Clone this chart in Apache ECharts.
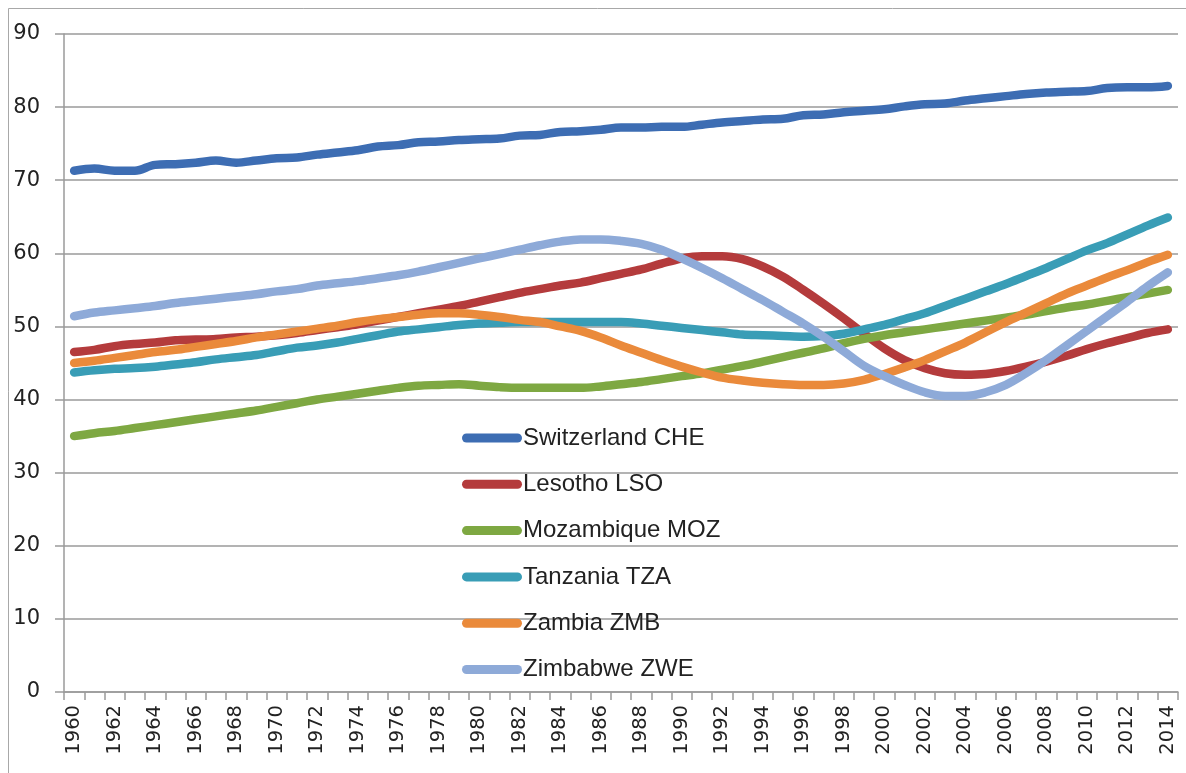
<!DOCTYPE html>
<html>
<head>
<meta charset="utf-8">
<script src="https://cdn.jsdelivr.net/npm/echarts@6/dist/echarts.min.js"></script>
<style>
html,body{margin:0;padding:0;background:#fff;}
#chart{width:1186px;height:773px;}
</style>
</head>
<body>
<div id="chart"></div>
<script>
var years = [];
for (var y = 1960; y <= 2014; y++) years.push(String(y));

var seriesNames = ['Switzerland CHE','Lesotho LSO','Mozambique MOZ','Tanzania TZA','Zambia ZMB','Zimbabwe ZWE'];
var seriesColors = ['#3d6db3','#b43b3c','#7ea842','#399db6','#ea8a3b','#8eaad8'];

var switzerland = [71.3,71.6,71.3,71.3,72.1,72.2,72.4,72.7,72.4,72.7,73.0,73.1,73.5,73.8,74.1,74.6,74.8,75.2,75.3,75.5,75.6,75.7,76.1,76.2,76.6,76.7,76.9,77.2,77.2,77.3,77.3,77.6,77.9,78.1,78.3,78.4,78.9,79.0,79.3,79.5,79.7,80.1,80.4,80.5,80.9,81.2,81.5,81.8,82.0,82.1,82.2,82.6,82.7,82.7,82.9];
var lesotho = [46.5,46.8,47.3,47.6,47.8,48.1,48.2,48.3,48.5,48.6,48.8,49.1,49.5,49.9,50.3,50.8,51.3,51.8,52.3,52.8,53.4,54.0,54.6,55.1,55.6,56.0,56.6,57.2,57.8,58.6,59.3,59.6,59.6,59.2,58.2,56.8,55.0,53.1,51.1,49.0,47.0,45.4,44.3,43.6,43.4,43.5,43.9,44.5,45.2,46.0,46.9,47.7,48.4,49.1,49.6];
var mozambique = [35.0,35.4,35.7,36.1,36.5,36.9,37.3,37.7,38.1,38.5,39.0,39.5,40.0,40.4,40.8,41.2,41.6,41.9,42.0,42.1,41.9,41.7,41.6,41.6,41.6,41.6,41.8,42.1,42.4,42.8,43.2,43.6,44.1,44.6,45.2,45.8,46.4,47.0,47.7,48.3,48.8,49.2,49.6,50.0,50.4,50.8,51.2,51.6,52.1,52.6,53.0,53.5,54.0,54.5,55.0];
var tanzania = [43.7,44.0,44.2,44.3,44.5,44.8,45.1,45.5,45.8,46.1,46.6,47.1,47.4,47.8,48.3,48.8,49.3,49.6,49.9,50.2,50.4,50.5,50.6,50.6,50.6,50.6,50.6,50.6,50.4,50.1,49.8,49.5,49.2,48.9,48.8,48.7,48.6,48.7,49.0,49.6,50.2,51.0,51.8,52.8,53.8,54.8,55.8,56.9,58.0,59.2,60.4,61.4,62.6,63.8,64.9];
var zambia = [45.0,45.3,45.7,46.1,46.5,46.8,47.2,47.6,48.0,48.5,48.9,49.3,49.7,50.1,50.6,51.0,51.3,51.6,51.8,51.8,51.6,51.3,50.9,50.6,50.0,49.4,48.5,47.4,46.4,45.4,44.5,43.7,43.0,42.6,42.3,42.1,42.0,42.0,42.2,42.7,43.5,44.4,45.4,46.6,47.8,49.2,50.6,51.9,53.2,54.5,55.6,56.7,57.7,58.8,59.8];
var zimbabwe = [51.4,51.9,52.2,52.5,52.8,53.2,53.5,53.8,54.1,54.4,54.8,55.1,55.6,55.9,56.2,56.6,57.0,57.5,58.1,58.7,59.3,59.9,60.5,61.1,61.6,61.9,61.9,61.7,61.3,60.5,59.3,58.0,56.6,55.1,53.6,52.0,50.4,48.6,46.6,44.6,43.2,42.0,41.0,40.5,40.5,41.0,42.0,43.6,45.4,47.4,49.4,51.4,53.4,55.5,57.4];

var allData = [switzerland, lesotho, mozambique, tanzania, zambia, zimbabwe];

var yMin = 0, yMax = 90, yInterval = 10;

var chart = echarts.init(document.getElementById('chart'), null, {renderer: 'canvas'});

var series = seriesNames.map(function (name, i) {
  return {
    name: name,
    type: 'line',
    data: allData[i],
    smooth: 0.35,
    symbol: 'none',
    showSymbol: false,
    lineStyle: {width: 8.5, color: seriesColors[i], cap: 'round', join: 'round'},
    itemStyle: {color: seriesColors[i]},
    emphasis: {disabled: true},
    animation: false
  };
});

var axisGray = '#9a9a9a';

chart.setOption({
  animation: false,
  backgroundColor: '#ffffff',
  graphic: [{
    type: 'rect',
    shape: {x: 8.5, y: 8.5, width: 1200, height: 800},
    style: {fill: 'none', stroke: '#a8a8a8', lineWidth: 1},
    silent: true
  }],
  grid: {left: 64, right: 8, top: 34, bottom: 81, containLabel: false},
  legend: {
    orient: 'vertical',
    left: 457,
    top: 420,
    padding: 5,
    itemWidth: 60,
    itemHeight: 9,
    itemGap: 20.3,
    icon: 'path://M4.5,0 L55.5,0 A4.5,4.5 0 0 1 55.5,9 L4.5,9 A4.5,4.5 0 0 1 4.5,0 Z',
    data: seriesNames,
    selectedMode: false,
    textStyle: {
      fontFamily: 'Liberation Sans',
      fontSize: 24,
      lineHeight: 26,
      color: '#222222',
      padding: [0, 0, 0, -4]
    }
  },
  xAxis: {
    type: 'category',
    data: years,
    boundaryGap: true,
    axisLine: {show: true, lineStyle: {color: axisGray, width: 1.5}},
    axisTick: {show: true, interval: 0, length: 8, lineStyle: {color: axisGray, width: 1.5}},
    axisLabel: {
      interval: 1,
      rotate: 90,
      margin: 13,
      fontFamily: 'DejaVu Sans',
      fontSize: 19.5,
      color: '#222222'
    },
    splitLine: {show: false}
  },
  yAxis: {
    type: 'value',
    min: yMin,
    max: yMax,
    interval: yInterval,
    axisLine: {show: true, lineStyle: {color: axisGray, width: 1.5}},
    axisTick: {show: true, length: 9, lineStyle: {color: axisGray, width: 1.5}},
    axisLabel: {
      margin: 24,
      fontFamily: 'DejaVu Sans',
      fontSize: 21,
      color: '#222222'
    },
    splitLine: {show: true, lineStyle: {color: axisGray, width: 1.5}}
  },
  series: series
});
</script>
</body>
</html>
